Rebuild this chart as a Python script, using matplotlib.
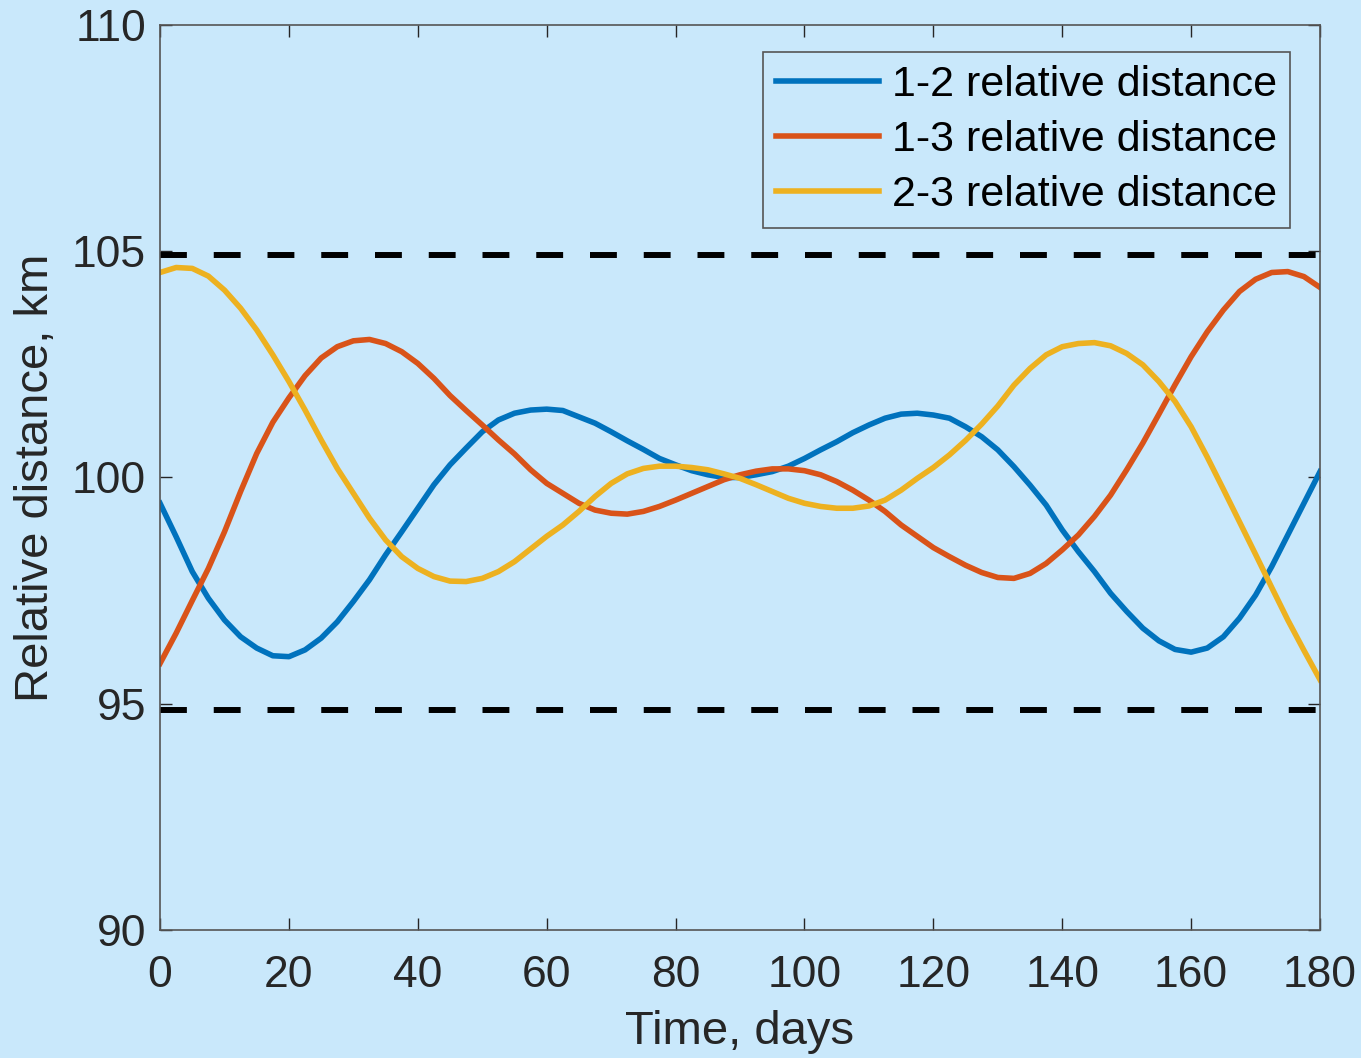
import numpy as np
import matplotlib.pyplot as plt

plt.rcParams['font.family'] = ['Liberation Sans', 'DejaVu Sans']

days = np.arange(0, 180.1, 2.5)
d12 = [99.43, 98.69, 97.92, 97.33, 96.85, 96.48, 96.23, 96.06, 96.04, 96.19,
       96.45, 96.81, 97.26, 97.74, 98.29, 98.80, 99.32, 99.84, 100.28, 100.65,
       101.01, 101.27, 101.42, 101.49, 101.51, 101.48, 101.34, 101.20, 101.01, 100.81,
       100.62, 100.42, 100.28, 100.15, 100.06, 100.00, 100.00, 100.06, 100.13, 100.25,
       100.42, 100.61, 100.79, 100.99, 101.16, 101.31, 101.40, 101.42, 101.38, 101.31,
       101.12, 100.90, 100.61, 100.24, 99.83, 99.39, 98.84, 98.36, 97.92, 97.44,
       97.04, 96.67, 96.39, 96.20, 96.14, 96.23, 96.48, 96.89, 97.40, 98.03,
       98.73, 99.43, 100.13]
d13 = [95.89, 96.56, 97.28, 97.99, 98.80, 99.69, 100.53, 101.22, 101.76, 102.25,
       102.64, 102.89, 103.02, 103.05, 102.96, 102.78, 102.52, 102.19, 101.81, 101.48,
       101.16, 100.83, 100.52, 100.17, 99.87, 99.65, 99.43, 99.28, 99.21, 99.19,
       99.25, 99.36, 99.50, 99.65, 99.80, 99.95, 100.06, 100.14, 100.19, 100.19,
       100.15, 100.06, 99.91, 99.72, 99.50, 99.25, 98.95, 98.70, 98.45, 98.25,
       98.06, 97.90, 97.79, 97.77, 97.88, 98.10, 98.40, 98.73, 99.14, 99.61,
       100.17, 100.76, 101.40, 102.05, 102.67, 103.22, 103.70, 104.11, 104.38, 104.53,
       104.55, 104.44, 104.20]
d23 = [104.53, 104.64, 104.62, 104.45, 104.14, 103.74, 103.26, 102.71, 102.12, 101.49,
       100.83, 100.20, 99.65, 99.10, 98.62, 98.25, 97.99, 97.81, 97.71, 97.70,
       97.77, 97.92, 98.14, 98.42, 98.70, 98.95, 99.25, 99.58, 99.87, 100.08,
       100.20, 100.25, 100.25, 100.22, 100.17, 100.08, 99.98, 99.84, 99.69, 99.54,
       99.43, 99.36, 99.32, 99.32, 99.37, 99.50, 99.72, 99.98, 100.22, 100.50,
       100.82, 101.18, 101.58, 102.04, 102.41, 102.71, 102.89, 102.96, 102.98, 102.91,
       102.74, 102.49, 102.12, 101.68, 101.12, 100.45, 99.74, 99.02, 98.30, 97.57,
       96.85, 96.18, 95.53]
upper_bound = 104.92
lower_bound = 94.86

bg = '#c9e8fb'
fig = plt.figure(figsize=(13.61, 10.58), dpi=100, facecolor=bg)
ax = fig.add_axes([0.1176, 0.121, 0.8523, 0.8554], facecolor=bg)

ax.plot(days, d12, color='#0072bd', lw=4.0, label='1-2 relative distance')
ax.plot(days, d13, color='#d95319', lw=4.0, label='1-3 relative distance')
ax.plot(days, d23, color='#edb120', lw=4.0, label='2-3 relative distance')
ax.axhline(upper_bound, color='black', lw=4.3, linestyle=(0, (4.5, 4.5)))
ax.axhline(lower_bound, color='black', lw=4.3, linestyle=(0, (4.5, 4.5)))

ax.set_xlim(0, 180)
ax.set_ylim(90, 110)
ax.set_xticks(range(0, 181, 20))
ax.set_yticks([90, 95, 100, 105, 110])
ax.tick_params(direction='in', length=8.5, width=1, colors='#262626', labelsize=32,
               top=True, right=True)
ax.tick_params(axis='x', pad=18)
ax.tick_params(axis='y', pad=10)
for s in ax.spines.values():
    s.set_color('#555555')
    s.set_linewidth(1.2)

ax.set_xlabel('Time, days', fontsize=34, color='#262626', labelpad=10)
ax.set_ylabel('Relative distance, km', fontsize=34, color='#262626', labelpad=10)

leg = ax.legend(loc='upper right', bbox_to_anchor=(0.974, 0.970), fontsize=31,
                fancybox=False, framealpha=1, facecolor=bg, edgecolor='#555555',
                handlelength=2.4, handletextpad=0.3, borderpad=0.3, labelspacing=0.35,
                borderaxespad=0)
leg.get_frame().set_linewidth(1.2)

fig.savefig('out.png', dpi=100, facecolor=bg)
